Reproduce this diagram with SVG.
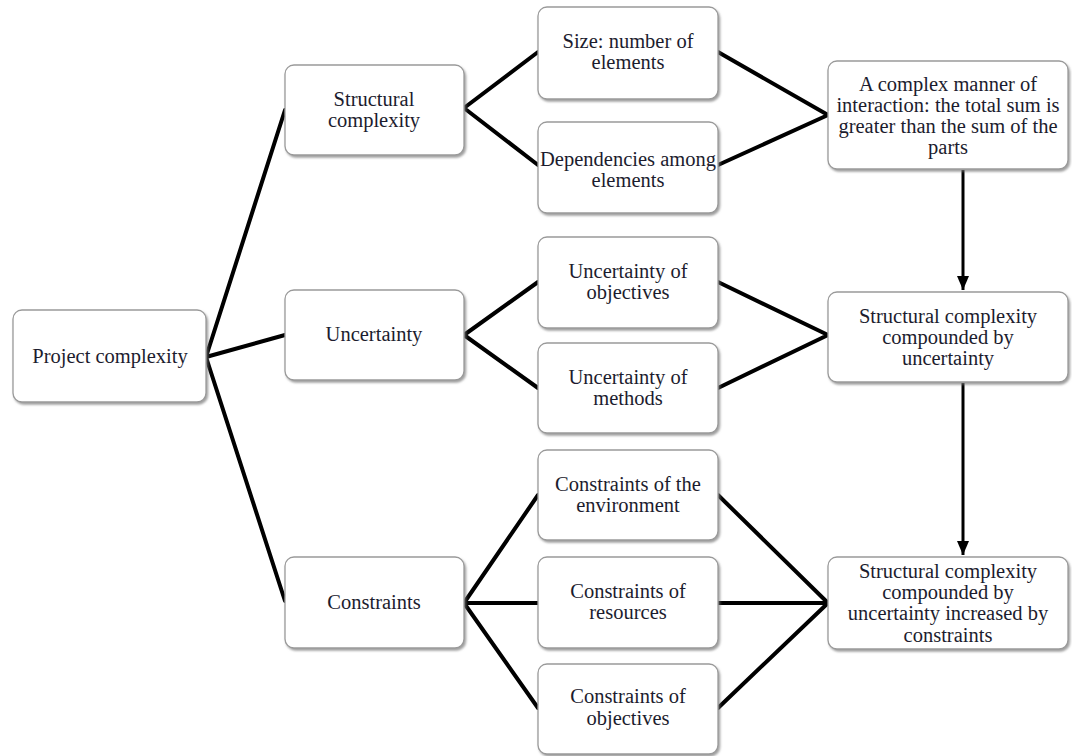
<svg xmlns="http://www.w3.org/2000/svg" width="1072" height="756" viewBox="0 0 1072 756">
<defs>
<filter id="sh" x="-10%" y="-10%" width="120%" height="130%">
<feDropShadow dx="1.5" dy="2" stdDeviation="1.2" flood-color="#777" flood-opacity="0.7"/>
</filter>
<marker id="arr" viewBox="0 0 14 12" refX="14" refY="6" markerWidth="14" markerHeight="12" markerUnits="userSpaceOnUse" orient="auto">
<path d="M0,0 L14,6 L0,12 Z" fill="#000"/>
</marker>
</defs>
<style>
.box{fill:#fff;stroke:#9a9a9a;stroke-width:1.3;filter:url(#sh)}
.t{font-family:"Liberation Serif","Times New Roman",serif;font-size:20.5px;fill:#1c1c2e;text-anchor:middle}
.c{stroke:#000;stroke-width:4;fill:none;stroke-linecap:round}
.a{stroke:#000;stroke-width:3;fill:none}
</style>
<rect width="1072" height="756" fill="#fff"/>
<g id="connectors">
<path class="c" d="M206,357 L285,110 M206,357 L285,335 M206,357 L285,601"/>
<path class="c" d="M464,108 L538,52 M464,108 L538,165 M718,52 L828,115 M718,165 L828,115"/>
<path class="c" d="M464,335 L538,282 M464,335 L538,388 M718,282 L828,335 M718,388 L828,335"/>
<path class="c" d="M464,603 L538,495 M464,603 L538,603 M464,603 L538,708 M718,495 L828,603 M718,603 L828,603 M718,708 L828,603"/>
<path class="a" d="M963,170 L963,290" marker-end="url(#arr)"/>
<path class="a" d="M963,383 L963,555" marker-end="url(#arr)"/>
</g>
<g id="project-complexity"><rect class="box" x="13" y="310" width="193" height="92" rx="9"/><text class="t" x="110" y="363">Project complexity</text></g>
<g id="structural-complexity"><rect class="box" x="285" y="65" width="179" height="90" rx="9"/><text class="t" x="374" y="106">Structural</text><text class="t" x="374" y="127">complexity</text></g>
<g id="uncertainty"><rect class="box" x="285" y="290" width="179" height="90" rx="9"/><text class="t" x="374" y="341">Uncertainty</text></g>
<g id="constraints"><rect class="box" x="285" y="557" width="179" height="91" rx="9"/><text class="t" x="374" y="609">Constraints</text></g>
<g id="size"><rect class="box" x="538" y="7" width="180" height="92" rx="9"/><text class="t" x="628" y="48">Size: number of</text><text class="t" x="628" y="69">elements</text></g>
<g id="dependencies"><rect class="box" x="538" y="122" width="180" height="91" rx="9"/><text class="t" x="628" y="166">Dependencies among</text><text class="t" x="628" y="187">elements</text></g>
<g id="unc-objectives"><rect class="box" x="538" y="237" width="180" height="91" rx="9"/><text class="t" x="628" y="278">Uncertainty of</text><text class="t" x="628" y="299">objectives</text></g>
<g id="unc-methods"><rect class="box" x="538" y="343" width="180" height="90" rx="9"/><text class="t" x="628" y="384">Uncertainty of</text><text class="t" x="628" y="405">methods</text></g>
<g id="con-environment"><rect class="box" x="538" y="450" width="180" height="90" rx="9"/><text class="t" x="628" y="491">Constraints of the</text><text class="t" x="628" y="512">environment</text></g>
<g id="con-resources"><rect class="box" x="538" y="557" width="180" height="91" rx="9"/><text class="t" x="628" y="598">Constraints of</text><text class="t" x="628" y="619">resources</text></g>
<g id="con-objectives"><rect class="box" x="538" y="664" width="180" height="90" rx="9"/><text class="t" x="628" y="703">Constraints of</text><text class="t" x="628" y="725">objectives</text></g>
<g id="complex-manner"><rect class="box" x="828" y="61" width="240" height="108" rx="9"/><text class="t" x="948" y="91">A complex manner of</text><text class="t" x="948" y="112">interaction: the total sum is</text><text class="t" x="948" y="133">greater than the sum of the</text><text class="t" x="948" y="154">parts</text></g>
<g id="compounded"><rect class="box" x="828" y="292" width="240" height="90" rx="9"/><text class="t" x="948" y="323">Structural complexity</text><text class="t" x="948" y="344">compounded by</text><text class="t" x="948" y="365">uncertainty</text></g>
<g id="increased"><rect class="box" x="828" y="557" width="240" height="92" rx="9"/><text class="t" x="948" y="578">Structural complexity</text><text class="t" x="948" y="599">compounded by</text><text class="t" x="948" y="620">uncertainty increased by</text><text class="t" x="948" y="642">constraints</text></g>
</svg>
